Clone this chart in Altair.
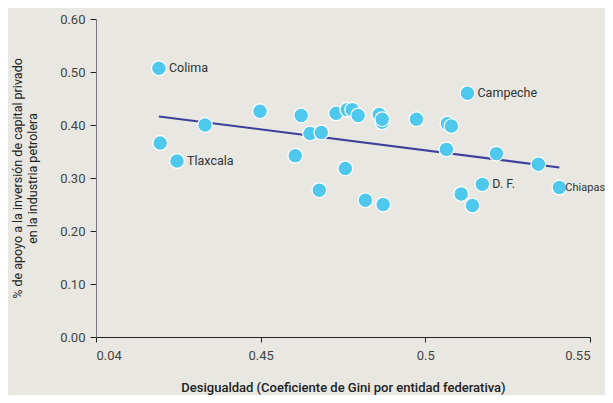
import altair as alt
import pandas as pd

gini = [0.4191, 0.4195, 0.4246, 0.4331, 0.4498, 0.4605, 0.4623, 0.4650, 0.4684, 0.4678,
        0.4729, 0.4763, 0.4778, 0.4796, 0.4757, 0.4818, 0.4860, 0.4869, 0.4869, 0.4872,
        0.4973, 0.5067, 0.5079, 0.5064, 0.5128, 0.5109, 0.5143, 0.5173, 0.5216, 0.5343, 0.5407]
apoyo = [0.507, 0.366, 0.332, 0.400, 0.426, 0.342, 0.418, 0.384, 0.386, 0.277,
         0.422, 0.429, 0.429, 0.418, 0.318, 0.258, 0.420, 0.405, 0.411, 0.250,
         0.411, 0.403, 0.398, 0.354, 0.460, 0.270, 0.248, 0.288, 0.346, 0.326, 0.282]
nombre = ["Colima", "", "Tlaxcala", "", "", "", "", "", "", "",
          "", "", "", "", "", "", "", "", "", "",
          "", "", "", "", "Campeche", "", "", "D. F.", "", "", "Chiapas"]

trend_x = [0.4191, 0.5407]
trend_y = [0.416, 0.320]

x_ticks = [0.40, 0.45, 0.50, 0.55]
y_ticks = [0.0, 0.1, 0.2, 0.3, 0.4, 0.5, 0.6]

df = pd.DataFrame({"gini": gini, "apoyo": apoyo, "nombre": nombre})
trend = pd.DataFrame({"gini": trend_x, "apoyo": trend_y})
labels_main = df[(df["nombre"] != "") & (df["nombre"] != "Chiapas")]
labels_edge = df[df["nombre"] == "Chiapas"]

FONT = "Roboto"

xs = alt.Scale(domain=[0.40, 0.55], nice=False, zero=False)
ys = alt.Scale(domain=[0.0, 0.6], nice=False)

xax = alt.Axis(values=x_ticks, labelExpr="datum.value < 0.41 ? '0.04' : datum.value == 0.5 ? '0.5' : format(datum.value, '.2f')",
               title="Desigualdad (Coeficiente de Gini por entidad federativa)",
               grid=False, domainColor="#222222", tickColor="#222222", tickSize=5,
               labelPadding=7, titlePadding=19, titleFontWeight=500,
               labelFontSize=13, titleFontSize=13)
yax = alt.Axis(values=y_ticks, format=".2f",
               title=["% de apoyo a la inversión de capital privado", "en la industria petrolera"],
               grid=False, domainColor="#777777", tickColor="#222222", tickSize=6,
               labelPadding=5, titlePadding=20, titleFontWeight="normal",
               labelFontSize=13, titleFontSize=12.5, titleLineHeight=15)

line = alt.Chart(trend).mark_line(color="#3f3f9c", strokeWidth=2).encode(
    x=alt.X("gini:Q", scale=xs, axis=xax),
    y=alt.Y("apoyo:Q", scale=ys, axis=yax),
)

pts = alt.Chart(df).mark_point(filled=True, size=215, color="#4ec8ec", opacity=1,
                               stroke="white", strokeWidth=1.2).encode(
    x=alt.X("gini:Q", scale=xs),
    y=alt.Y("apoyo:Q", scale=ys),
)

txt = alt.Chart(labels_main).mark_text(align="left", dx=10, fontSize=12.5, color="#333333", font=FONT).encode(
    x=alt.X("gini:Q", scale=xs),
    y=alt.Y("apoyo:Q", scale=ys),
    text="nombre:N",
)

txt_edge = alt.Chart(labels_edge).mark_text(align="left", dx=6, fontSize=11, color="#333333", font=FONT).encode(
    x=alt.X("gini:Q", scale=xs),
    y=alt.Y("apoyo:Q", scale=ys),
    text="nombre:N",
)

chart = alt.layer(line, pts, txt, txt_edge).properties(
    width=494, height=318,
    background="#e8e7e1",
    padding={"left": 88, "top": 11, "right": 15, "bottom": 58},
    autosize=alt.AutoSizeParams(type="none"),
).configure_view(stroke=None).configure_axis(
    labelFont=FONT, titleFont=FONT, labelColor="#444444", titleColor="#222222"
)

chart.save("out.html", embed_options={"renderer": "svg", "actions": False})
